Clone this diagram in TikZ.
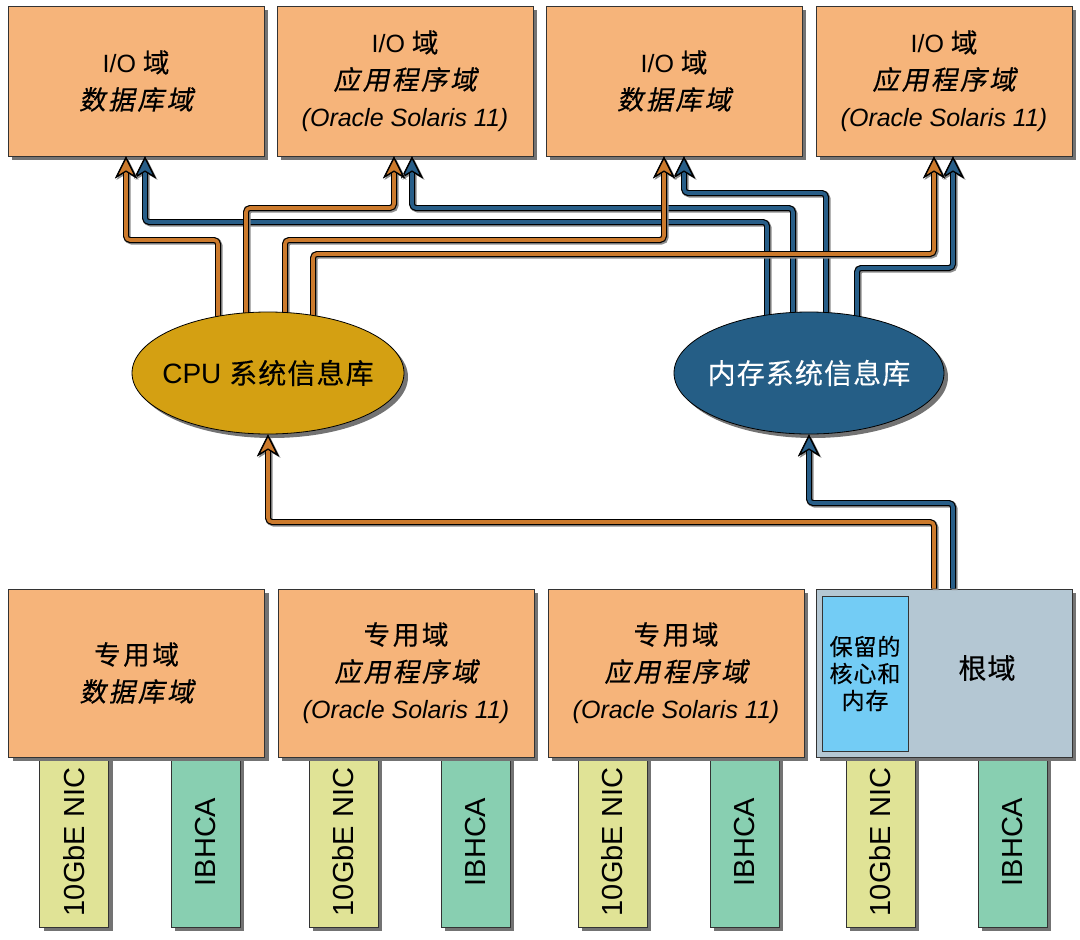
\documentclass[tikz,border=0pt]{standalone}
\usepackage{fontspec}
\setmainfont{Liberation Sans}
\newfontfamily\cjk{Noto Sans CJK SC}[Scale=1.06,LetterSpace=10,FakeBold=0.4]
\newfontfamily\cjkit{Noto Sans CJK SC}[Scale=1.06,LetterSpace=10,FakeSlant=0.2,FakeBold=0.4]
\newfontfamily\cjkb{Noto Sans CJK SC}[LetterSpace=4,FakeBold=0.3]
\usetikzlibrary{shapes.geometric,arrows.meta,shadows}
\pgfdeclarelayer{fg}
\pgfdeclarelayer{top}
\pgfsetlayers{main,fg,top}
\definecolor{peach}{RGB}{246,180,122}
\definecolor{gold}{RGB}{212,160,18}
\definecolor{memblue}{RGB}{37,94,134}
\definecolor{orangeln}{RGB}{204,122,44}
\definecolor{blueln}{RGB}{40,94,136}
\definecolor{rootgray}{RGB}{180,199,211}
\definecolor{rsvblue}{RGB}{115,204,245}
\definecolor{nicyellow}{RGB}{224,227,150}
\definecolor{ibgreen}{RGB}{136,207,177}
\tikzset{
  shd/.style={drop shadow={shadow xshift=4pt,shadow yshift=-4pt,fill=black!55,opacity=1}},
  dombox/.style={draw=black!80, line width=0.8pt, fill=peach, minimum width=256pt,
    inner sep=0pt, align=center, shd, font=\fontsize{25}{37}\selectfont},
  topbox/.style={dombox, minimum height=150pt},
  botbox/.style={dombox, minimum height=168pt},
  card/.style={draw=black!80, line width=0.8pt, rotate=90, minimum width=170pt,
    minimum height=69pt, inner sep=0pt, shd, font=\fontsize{29}{29}\selectfont},
  nic/.style={card, fill=nicyellow},
  ibh/.style={card, fill=ibgreen},
  db/.style={ellipse, draw=black, line width=0.8pt, minimum width=272pt,
    minimum height=122pt, inner sep=0pt, shd},
  lnshadow/.style={draw=black!45, line width=6pt, rounded corners=4pt,
    transform canvas={shift={(1.5pt,-1.5pt)}},
    -{Stealth[length=22pt,width=22pt,inset=6.5pt,line width=1.3pt,color=black!45,fill=black!45]}},
  lnout/.style={draw=black, line width=6pt, rounded corners=4pt,
    -{Stealth[length=22pt,width=22pt,inset=6.5pt,line width=1.3pt,color=black,fill=#1]}},
  lnin/.style={draw=#1, line width=3.6pt, rounded corners=4pt,
    -{Stealth[length=22pt,width=22pt,inset=6.5pt,line width=1.3pt,color=black,fill=#1]}},
}
\newcommand\connline[2]{%
  \draw[lnshadow] #2;
  \draw[lnout=#1] #2;
  \draw[lnin=#1] #2;}
\begin{document}
\begin{tikzpicture}[x=1pt,y=-1pt]
\useasboundingbox (0,0) rectangle (1080,940);
% cards
\node[nic] (n1) at (74,842) {10GbE NIC};
\node[ibh] (h1) at (205.5,842) {IBHCA};
\node[nic] (n2) at (343.5,842) {10GbE NIC};
\node[ibh] (h2) at (475.5,842) {IBHCA};
\node[nic] (n3) at (612.5,842) {10GbE NIC};
\node[ibh] (h3) at (744.5,842) {IBHCA};
\node[nic] (n4) at (880.5,842) {10GbE NIC};
\node[ibh] (h4) at (1012.5,842) {IBHCA};
% bottom boxes
\node[botbox] (b1) at (136.5,673) {{\cjk 专用域}\\{\cjkit 数据库域}};
\node[botbox] (b2) at (406,673) {{\cjk 专用域}\\{\cjkit 应用程序域}\\{\itshape (Oracle Solaris 11)}};
\node[botbox] (b3) at (676,673) {{\cjk 专用域}\\{\cjkit 应用程序域}\\{\itshape (Oracle Solaris 11)}};
\node[botbox, fill=rootgray] (root) at (944,673) {};
\node[draw=black!80, line width=0.8pt, fill=rsvblue, minimum width=86pt, minimum height=155pt,
  inner sep=0pt, align=center, font=\fontsize{23}{27}\selectfont\cjkb] (rsv) at (865,673.5) {保留的\\核心和\\内存};
\node[font=\fontsize{28}{28}\selectfont\cjkb] (rootlbl) at (987,668) {根域};
% top boxes
\node[topbox] (t1) at (136,81) {I/O {\cjk 域}\\{\cjkit 数据库域}};
\node[topbox] (t2) at (405,81) {I/O {\cjk 域}\\{\cjkit 应用程序域}\\{\itshape (Oracle Solaris 11)}};
\node[topbox] (t3) at (674,81) {I/O {\cjk 域}\\{\cjkit 数据库域}};
\node[topbox] (t4) at (944,81) {I/O {\cjk 域}\\{\cjkit 应用程序域}\\{\itshape (Oracle Solaris 11)}};
% ellipses
\begin{pgfonlayer}{fg}
\node[db, fill=gold] (cpu) at (268,373) {};
\node[font=\fontsize{28}{28}\selectfont] (cpulbl) at (cpu.center) {CPU {\cjkb 系统信息库}};
\node[db, fill=memblue, minimum width=270pt] (mem) at (809,373) {};
\node[font=\fontsize{28}{28}\selectfont\cjkb, text=white] (memlbl) at (mem.center) {内存系统信息库};
\end{pgfonlayer}
% connectors to top boxes
\connline{blueln}{([xshift=-42pt]mem.center) |- (145,222) -- ([xshift=9pt]t1.south)}
\connline{blueln}{([xshift=-16pt]mem.center) |- (412,208) -- ([xshift=7pt]t2.south)}
\connline{blueln}{([xshift=17pt]mem.center) |- (684,193) -- ([xshift=10pt]t3.south)}
\connline{blueln}{([xshift=48pt]mem.center) |- (953,268) -- ([xshift=9pt]t4.south)}
\connline{orangeln}{([xshift=-50pt]cpu.center) |- (126,240) -- ([xshift=-10pt]t1.south)}
\connline{orangeln}{([xshift=-22pt]cpu.center) |- (394,208) -- ([xshift=-11pt]t2.south)}
\connline{orangeln}{([xshift=17pt]cpu.center) |- (664,240) -- ([xshift=-10pt]t3.south)}
\connline{orangeln}{([xshift=45pt]cpu.center) |- (934,254) -- ([xshift=-10pt]t4.south)}
% connectors from root domain
\begin{pgfonlayer}{top}
\connline{orangeln}{([xshift=-10pt]root.north) |- (268,522) -- (cpu.south)}
\connline{blueln}{([xshift=9pt]root.north) |- (809,503) -- (mem.south)}
\end{pgfonlayer}
\end{tikzpicture}
\end{document}
